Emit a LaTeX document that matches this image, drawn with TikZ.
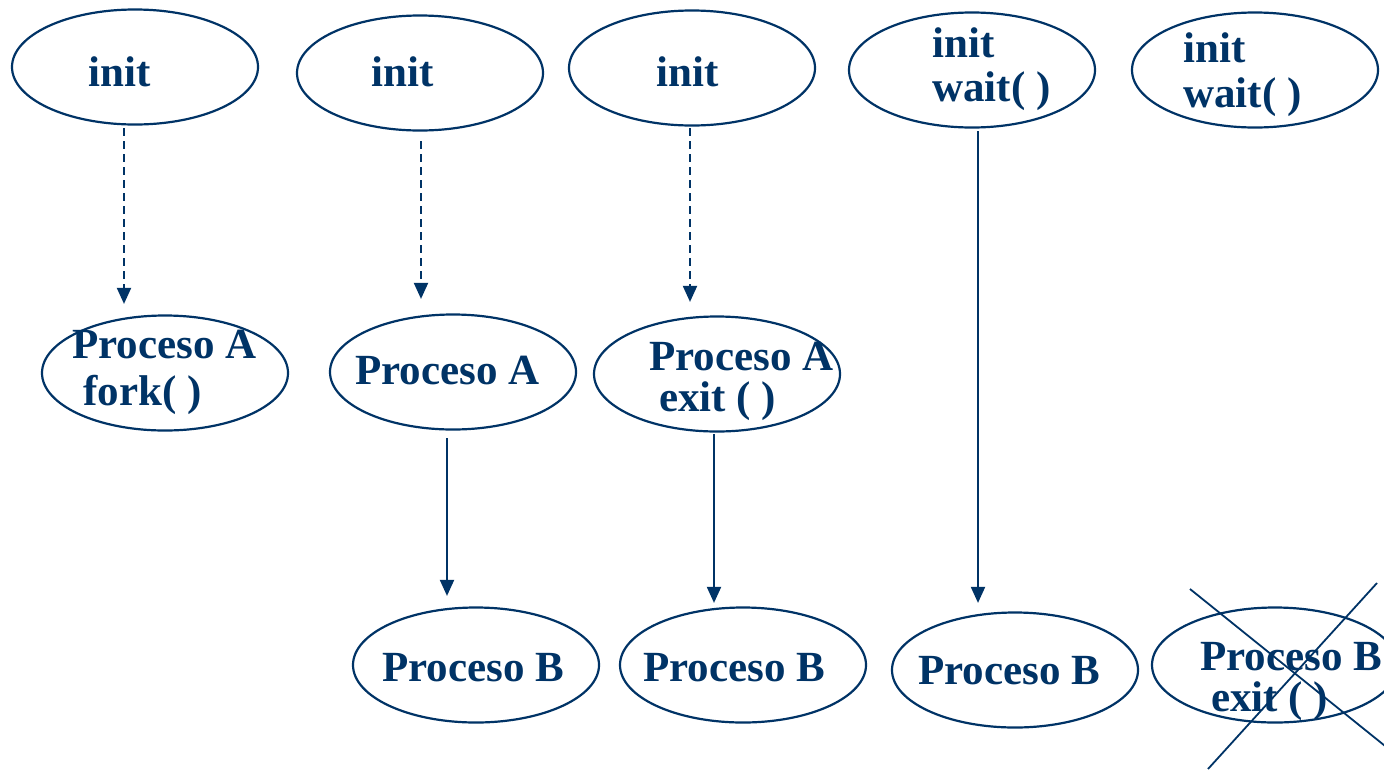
\documentclass[tikz,border=0pt]{standalone}
\usepackage{fontspec}
\setmainfont{Liberation Serif}
\usetikzlibrary{arrows.meta,calc,shapes.geometric}
\definecolor{navy}{HTML}{003366}
\begin{document}
\begin{tikzpicture}[x=1pt,y=-1pt,
  proc/.style={draw=navy,line width=2.2pt,ellipse,minimum width=246pt,minimum height=115pt,inner sep=0pt},
  lbl/.style={anchor=base west,inner sep=0pt,text=navy,font=\fontsize{43}{47}\selectfont\bfseries},
  dasharrow/.style={draw=navy,line width=2pt,dash pattern=on 8pt off 5pt,-{Triangle[length=16pt,width=14pt]}},
  solidarrow/.style={draw=navy,line width=2pt,-{Triangle[length=16pt,width=14pt]}},
  crossline/.style={draw=navy,line width=1.8pt}]
\clip (0,0) rectangle (1384,769);
\fill[white] (0,0) rectangle (1384,769);
% ellipses
\node[proc] (i1) at (135,67) {};
\node[proc] (i2) at (420,73) {};
\node[proc] (i3) at (692,68) {};
\node[proc] (i4) at (972,70) {};
\node[proc] (i5) at (1255,70) {};
\node[proc] (A1) at (165,373) {};
\node[proc] (A2) at (453,372) {};
\node[proc] (A3) at (717,374) {};
\node[proc] (B1) at (476,665) {};
\node[proc] (B2) at (743,665) {};
\node[proc] (B3) at (1015,670) {};
\node[proc] (B4) at (1275,665) {};
% labels
\node[lbl] (t1) at (88,86) {init};
\node[lbl] (t2) at (371,86) {init};
\node[lbl] (t3) at (656,86) {init};
\node[lbl] (t4a) at (932,57) {init};
\node[lbl] (t4b) at (932,101) {wait( )};
\node[lbl] (t5a) at (1183,62) {init};
\node[lbl] (t5b) at (1183,107) {wait( )};
\node[lbl] (ta1a) at (72,358) {Proceso A};
\node[lbl] (ta1b) at (83,405) {fork( )};
\node[lbl] (ta2) at (355,384) {Proceso A};
\node[lbl] (ta3a) at (649,370) {Proceso A};
\node[lbl] (ta3b) at (659,411) {exit ( )};
\node[lbl] (tb1) at (382,681) {Proceso B};
\node[lbl] (tb2) at (643,681) {Proceso B};
\node[lbl] (tb3) at (918,684) {Proceso B};
\node[lbl] (tb4a) at (1200,670) {Proceso B};
\node[lbl] (tb4b) at (1211,711) {exit ( )};
% arrows
\draw[dasharrow] ([xshift=-11pt,yshift=-2.5pt]i1.south) -- ([xshift=-41pt,yshift=10.5pt]A1.north);
\draw[dasharrow] ([xshift=1pt,yshift=-9.5pt]i2.south) -- ([xshift=-32pt,yshift=14.5pt]A2.north);
\draw[dasharrow] ([xshift=-2pt,yshift=-1.5pt]i3.south) -- ([xshift=-27pt,yshift=13.5pt]A3.north);
\draw[solidarrow] ([xshift=-6pt,yshift=-7.5pt]A2.south) -- ([xshift=-29pt,yshift=10.5pt]B1.north);
\draw[solidarrow] ([xshift=-3pt,yshift=-1.5pt]A3.south) -- ([xshift=-29pt,yshift=3.5pt]B2.north);
\draw[solidarrow] ([xshift=6pt,yshift=-2.5pt]i4.south) -- ([xshift=-37pt,yshift=8.5pt]B3.north);
% cross over B4
\coordinate (c1s) at (1190,589);
\coordinate (c1e) at (1400,758);
\coordinate (c2s) at (1377,583);
\coordinate (c2e) at (1208,769);
\draw[crossline] (c1s) -- (c1e);
\draw[crossline] (c2s) -- (c2e);
\end{tikzpicture}
\end{document}
